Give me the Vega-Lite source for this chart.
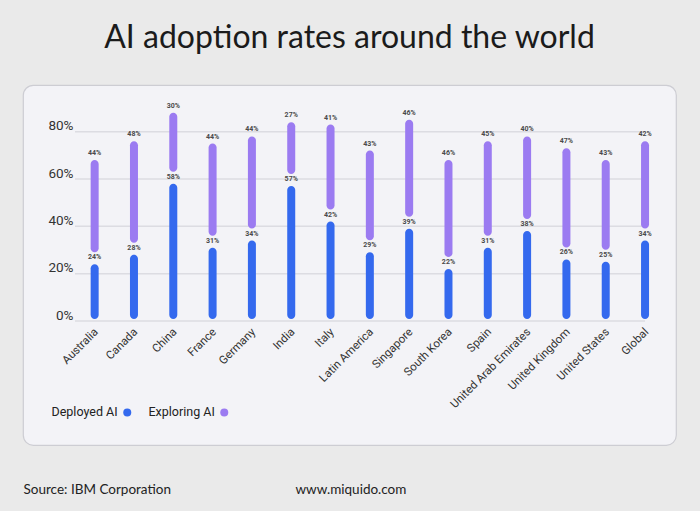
{
  "$schema": "https://vega.github.io/schema/vega-lite/v6.json",
  "autosize": {"type": "none"},
  "width": 653,
  "height": 360,
  "padding": {"left": 23, "top": 85, "right": 24, "bottom": 66},
  "background": "#eaeaea",
  "config": {
    "font": "Roboto, sans-serif",
    "view": {"fill": "#f3f3f7", "stroke": "#cdcdd3", "strokeWidth": 1.2, "cornerRadius": 10}
  },
  "title": {
    "text": "AI adoption rates around the world",
    "font": "Lato",
    "fontSize": 32,
    "fontWeight": "normal",
    "color": "#1b1b1b",
    "anchor": "middle",
    "offset": 30
  },
  "datasets": {
    "adoption": [
      {"country": "Australia", "series": "Deployed AI", "value": 0.24},
      {"country": "Australia", "series": "Exploring AI", "value": 0.44},
      {"country": "Canada", "series": "Deployed AI", "value": 0.28},
      {"country": "Canada", "series": "Exploring AI", "value": 0.48},
      {"country": "China", "series": "Deployed AI", "value": 0.58},
      {"country": "China", "series": "Exploring AI", "value": 0.30},
      {"country": "France", "series": "Deployed AI", "value": 0.31},
      {"country": "France", "series": "Exploring AI", "value": 0.44},
      {"country": "Germany", "series": "Deployed AI", "value": 0.34},
      {"country": "Germany", "series": "Exploring AI", "value": 0.44},
      {"country": "India", "series": "Deployed AI", "value": 0.57},
      {"country": "India", "series": "Exploring AI", "value": 0.27},
      {"country": "Italy", "series": "Deployed AI", "value": 0.42},
      {"country": "Italy", "series": "Exploring AI", "value": 0.41},
      {"country": "Latin America", "series": "Deployed AI", "value": 0.29},
      {"country": "Latin America", "series": "Exploring AI", "value": 0.43},
      {"country": "Singapore", "series": "Deployed AI", "value": 0.39},
      {"country": "Singapore", "series": "Exploring AI", "value": 0.46},
      {"country": "South Korea", "series": "Deployed AI", "value": 0.22},
      {"country": "South Korea", "series": "Exploring AI", "value": 0.46},
      {"country": "Spain", "series": "Deployed AI", "value": 0.31},
      {"country": "Spain", "series": "Exploring AI", "value": 0.45},
      {"country": "United Arab Emirates", "series": "Deployed AI", "value": 0.38},
      {"country": "United Arab Emirates", "series": "Exploring AI", "value": 0.40},
      {"country": "United Kingdom", "series": "Deployed AI", "value": 0.26},
      {"country": "United Kingdom", "series": "Exploring AI", "value": 0.47},
      {"country": "United States", "series": "Deployed AI", "value": 0.25},
      {"country": "United States", "series": "Exploring AI", "value": 0.43},
      {"country": "Global", "series": "Deployed AI", "value": 0.34},
      {"country": "Global", "series": "Exploring AI", "value": 0.42}
    ],
    "grid": [{"v": 0}, {"v": 0.2}, {"v": 0.4}, {"v": 0.6}, {"v": 0.8}]
  },
  "data": {"name": "adoption"},
  "transform": [
    {"stack": "value", "groupby": ["country"], "sort": [{"field": "series", "order": "ascending"}], "as": ["v0", "v1"]}
  ],
  "layer": [
    {
      "data": {"name": "grid"},
      "mark": {"type": "rule", "color": "#dcdce2", "strokeWidth": 1.5},
      "encoding": {
        "x": {"datum": "Australia", "type": "nominal", "bandPosition": 0},
        "x2": {"datum": "Global"},
        "y": {
          "field": "v",
          "type": "quantitative",
          "scale": {"domain": [0, 0.9], "range": [236, 23], "nice": false, "zero": true},
          "axis": {
            "values": [0, 0.2, 0.4, 0.6, 0.8],
            "format": ".0%",
            "grid": false,
            "domain": false,
            "ticks": false,
            "offset": -55,
            "labelPadding": 5,
            "labelOffset": -6,
            "labelFontSize": 13.5,
            "labelColor": "#333333",
            "title": "Source: IBM Corporation",
            "titleAngle": 0,
            "titleAlign": "left",
            "titleBaseline": "alphabetic",
            "titleX": -55,
            "titleY": 408,
            "titleFont": "Lato",
            "titleFontSize": 13.5,
            "titleFontWeight": "normal",
            "titleColor": "#222222"
          }
        }
      }
    },
    {
      "transform": [{"filter": "datum.series === 'Deployed AI'"}],
      "mark": {"type": "bar", "width": 8, "cornerRadius": 4, "y2Offset": -2},
      "encoding": {
        "x": {
          "field": "country",
          "type": "nominal",
          "scale": {
            "domain": ["Australia", "Canada", "China", "France", "Germany", "India", "Italy", "Latin America", "Singapore", "South Korea", "Spain", "United Arab Emirates", "United Kingdom", "United States", "Global"],
            "range": [52, 641.7],
            "paddingInner": 0,
            "paddingOuter": 0
          },
          "axis": {
            "orient": "bottom",
            "offset": -124,
            "domain": false,
            "ticks": false,
            "labelAngle": -45,
            "labelAlign": "right",
            "labelBaseline": "middle",
            "labelPadding": 9,
            "labelOffset": 2,
            "labelFontSize": 11.5,
            "labelColor": "#333333",
            "title": "www.miquido.com",
            "titleX": 272,
            "titleY": 172,
            "titleAlign": "left",
            "titleBaseline": "alphabetic",
            "titleFont": "Lato",
            "titleFontSize": 13.5,
            "titleFontWeight": "normal",
            "titleColor": "#222222"
          }
        },
        "y": {"field": "v1", "type": "quantitative"},
        "y2": {"field": "v0"},
        "color": {
          "field": "series",
          "type": "nominal",
          "scale": {"domain": ["Deployed AI", "Exploring AI"], "range": ["#3469ee", "#9b7bf1"]},
          "legend": {
            "orient": "none",
            "legendX": 27,
            "legendY": 321,
            "direction": "horizontal",
            "title": null,
            "symbolType": "circle",
            "symbolSize": 64,
            "symbolOffset": 71,
            "labelOffset": -82,
            "labelFontSize": 12.5,
            "labelColor": "#222222",
            "columnPadding": 15
          }
        }
      }
    },
    {
      "transform": [{"filter": "datum.series === 'Exploring AI'"}],
      "mark": {"type": "bar", "width": 8, "cornerRadius": 4, "y2Offset": -12},
      "encoding": {
        "x": {"field": "country", "type": "nominal"},
        "y": {"field": "v1", "type": "quantitative"},
        "y2": {"field": "v0"},
        "color": {"field": "series", "type": "nominal"}
      }
    },
    {
      "mark": {"type": "text", "dy": -7, "fontSize": 7, "fontWeight": "bold", "color": "#4a4a4a"},
      "encoding": {
        "x": {"field": "country", "type": "nominal"},
        "y": {"field": "v1", "type": "quantitative"},
        "text": {"field": "value", "type": "quantitative", "format": ".0%"}
      }
    }
  ]
}
